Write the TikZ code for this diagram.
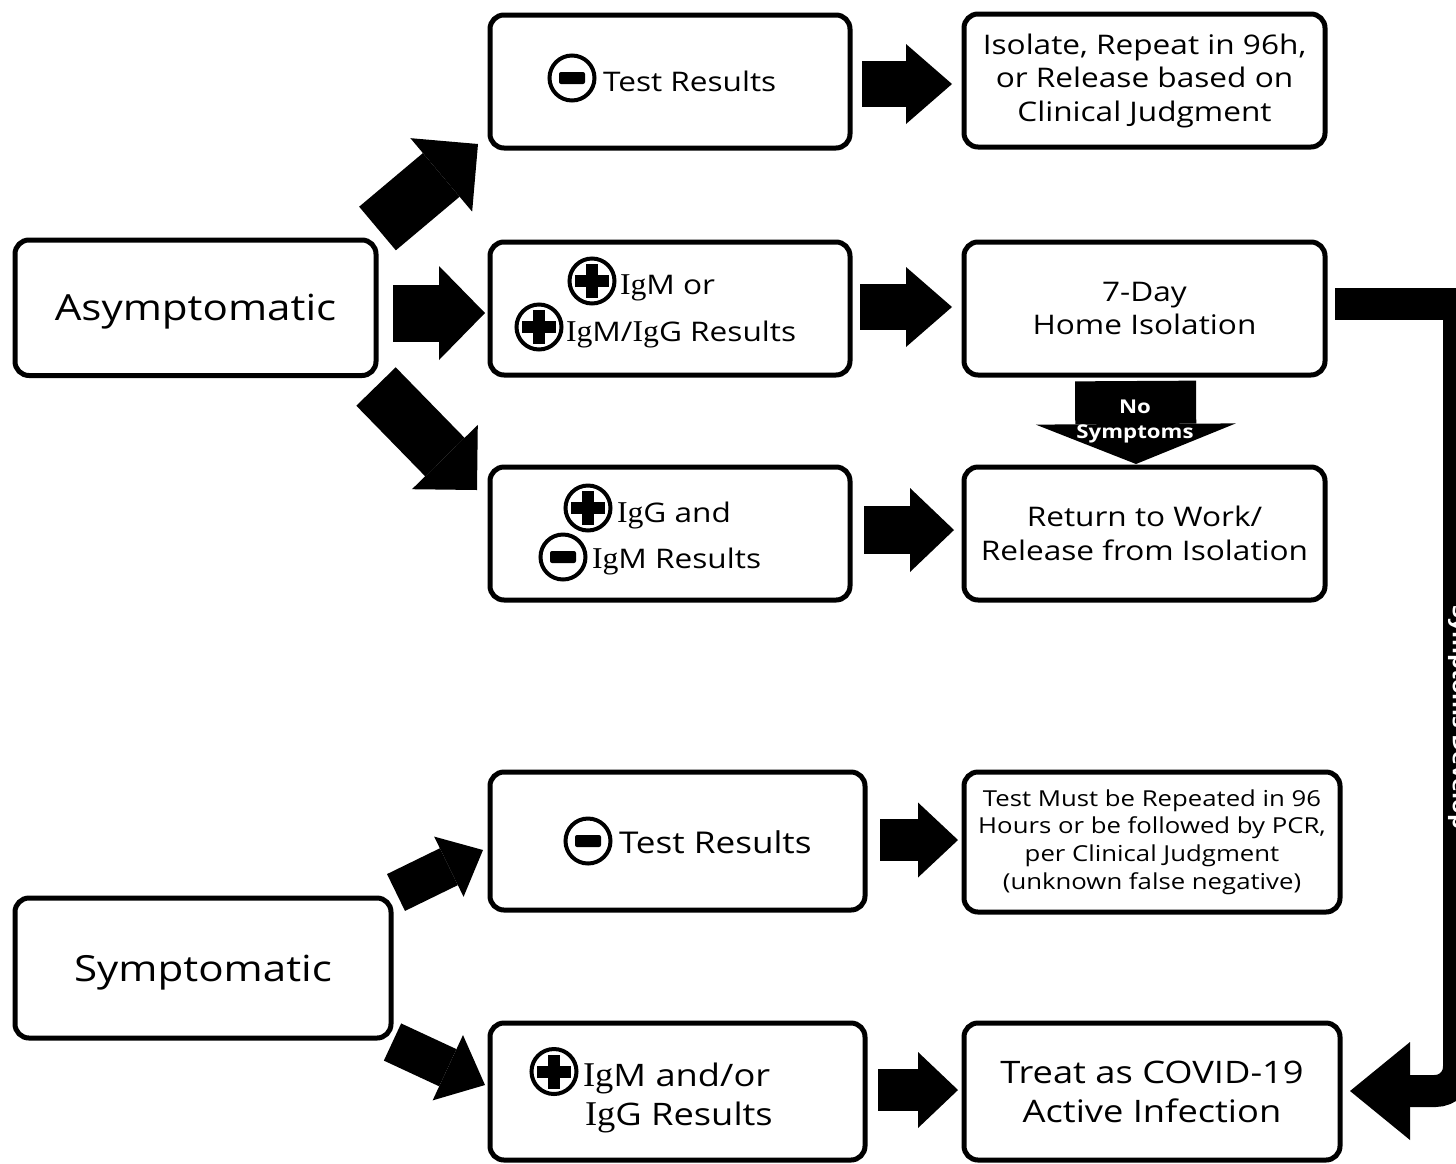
\documentclass[tikz,border=0pt]{standalone}
\usepackage{fontspec}
\setmainfont{Open Sans}[FakeStretch=1.17]
\newfontfamily\igf{Liberation Serif}[FakeStretch=1.05,Scale=1.12]
\usetikzlibrary{arrows.meta,calc}
\newcommand{\Ig}{{\igf Ig}}
\tikzset{
  box/.style={draw, line width=2.5pt, rounded corners=7pt, inner sep=0pt, outer sep=0pt, align=center},
  barrow/.style n args={3}{line width=#1, -{Triangle[length=#3, width=#2, line width=0pt]}},
  icon/.style={circle, draw, line width=2pt, minimum size=22.5pt, inner sep=0pt},
  plusicon/.style={icon, path picture={
     \fill ([xshift=-8.5pt,yshift=-3pt]path picture bounding box.center) rectangle ([xshift=8.5pt,yshift=3pt]path picture bounding box.center);
     \fill ([xshift=-3pt,yshift=-8.5pt]path picture bounding box.center) rectangle ([xshift=3pt,yshift=8.5pt]path picture bounding box.center);}},
  minusicon/.style={icon, path picture={
     \fill[rounded corners=1pt] ([xshift=-6.5pt,yshift=-3pt]path picture bounding box.center) rectangle ([xshift=6.5pt,yshift=3pt]path picture bounding box.center);}},
  lbl/.style={anchor=base west, inner sep=0pt, outer sep=0pt},
  fa/.style={font=\fontsize{13.5pt}{16.75pt}\selectfont},
  fbig/.style={font=\fontsize{18pt}{22pt}\selectfont},
  ffour/.style={font=\fontsize{15pt}{18pt}\selectfont},
  ffive/.style={font=\fontsize{15.5pt}{19.5pt}\selectfont},
  fsmall/.style={font=\fontsize{11pt}{13.85pt}\selectfont},
}
\begin{document}
\begin{tikzpicture}[x=0.5pt,y=-0.5pt]
\useasboundingbox (0,0) rectangle (1456,1163);
% boxes
\node[box, fbig, minimum width=180.5pt, minimum height=67.75pt, text depth=0pt] (A) at (195.5,307.75) {Asymptomatic};
\node[box, minimum width=180pt, minimum height=66.5pt] (M1) at (670,81.5) {};
\node[box, minimum width=180pt, minimum height=66.5pt] (M2) at (670,308.5) {};
\node[box, minimum width=180pt, minimum height=66.5pt] (M3) at (670,533.5) {};
\node[box, fa, minimum width=180.5pt, minimum height=66.5pt] (R1) at (1144.5,80.5) {Isolate, Repeat in 96h,\\or Release based on\\Clinical Judgment};
\node[box, fa, minimum width=180.5pt, minimum height=66.5pt] (R2) at (1144.5,308.5) {7-Day\\Home Isolation};
\node[box, fa, minimum width=180.5pt, minimum height=66.5pt] (R3) at (1144.5,533.5) {Return to Work/\\Release from Isolation};
\node[box, fbig, minimum width=188pt, minimum height=70pt, text depth=0pt] (S) at (203,968) {Symptomatic};
\node[box, minimum width=187.5pt, minimum height=69pt] (M4) at (677.5,841) {};
\node[box, fsmall, minimum width=188pt, minimum height=70pt] (R4) at (1152,842) {Test Must be Repeated in 96\\Hours or be followed by PCR,\\per Clinical Judgment\\(unknown false negative)};
\node[box, minimum width=187.5pt, minimum height=68.5pt] (M5) at (677.5,1091.5) {};
\node[box, ffive, minimum width=188pt, minimum height=68.5pt] (R5) at (1152,1091.5) {Treat as COVID-19\\Active Infection};
% middle box contents
\node[minusicon] (i1) at (572,78) {};
\node[lbl, fa] (t1) at (603,91) {Test Results};
\node[plusicon] (i2a) at (592,281) {};
\node[lbl, fa] (t2a) at (620,294) {\Ig M or};
\node[plusicon] (i2b) at (539,327) {};
\node[lbl, fa] (t2b) at (566,341) {\Ig M/\Ig G Results};
\node[plusicon] (i3a) at (588,508) {};
\node[lbl, fa] (t3a) at (617,522) {\Ig G and};
\node[minusicon] (i3b) at (563,557) {};
\node[lbl, fa] (t3b) at (592,568) {\Ig M Results};
\node[minusicon] (i4) at (588,841) {};
\node[lbl, ffour] (t4) at (619,853) {Test Results};
\node[plusicon] (i5) at (554,1071.5) {};
\node[lbl, ffive] (t5a) at (583,1086) {\Ig M and/or};
\node[lbl, ffive] (t5b) at (585,1125) {\Ig G Results};
% block arrows
\draw[barrow={23pt}{40pt}{23pt}] ($(M1.east)+(12,2.5)$) -- ($(R1.west)+(-12,3.5)$);
\draw[barrow={23pt}{40pt}{23pt}] ($(M2.east)+(10,-1.5)$) -- ($(R2.west)+(-12,-1.5)$);
\draw[barrow={24pt}{42pt}{22pt}] ($(M3.east)+(14,-3.5)$) -- ($(R3.west)+(-10,-3.5)$);
\draw[barrow={21pt}{37.5pt}{20pt}] ($(M4.east)+(15,-1)$) -- ($(R4.west)+(-6,-2)$);
\draw[barrow={21pt}{38pt}{20pt}] ($(M5.east)+(13,-1.5)$) -- ($(R5.west)+(-6,-1.5)$);
\draw[barrow={28.5pt}{47pt}{23pt}] ($(A.east)+(17,5.25)$) -- ($(M2.west)+(-5,4.5)$);
\draw[barrow={28.5pt}{48pt}{24pt}] ($(A.north east)+(1.5,-11.5)$) -- ($(M1.south west)+(-12,-4)$);
\draw[barrow={27.5pt}{46pt}{23pt}] ($(A.south east)+(0,11)$) -- ($(M3.north west)+(-13,23)$);
\draw[barrow={20.5pt}{33.5pt}{19pt}] ($(S.north east)+(5,-5.5)$) -- ($(M4.west)+(-7,9)$);
\draw[barrow={20.5pt}{36pt}{20.5pt}] ($(S.south east)+(1.5,4)$) -- ($(M5.west)+(-5,-6.5)$);
% no symptoms arrow
\draw[barrow={60.5pt}{100pt}{20pt}] ($(R2.south)+(-9,6)$) -- ($(R3.north)+(-8.5,-3)$);
\node[text=white, font=\bfseries\fontsize{9.5pt}{12.5pt}\selectfont, align=center, inner sep=0pt] (nosym) at ($(R2.south)+(-9.5,46)$) {No\\Symptoms};
% symptoms develop connector
\coordinate (sdtop) at (1459,304);
\coordinate (sdbot) at (1459,1091);
\draw[line width=16pt] ($(R2.east)+(10,-4.5)$) -- (sdtop);
\draw[line width=16pt, rounded corners=12pt, -{Triangle[length=30pt,width=49pt,line width=0pt]}] ($(sdtop)+(0,-16)$) -- (sdbot) -- ($(R5.east)+(10,-0.5)$);
\node[rotate=-90, text=white, font=\bfseries\fontsize{10pt}{12pt}\selectfont, inner sep=0pt] (sdtext) at (1458,717) {Symptoms Develop};
\end{tikzpicture}
\end{document}
